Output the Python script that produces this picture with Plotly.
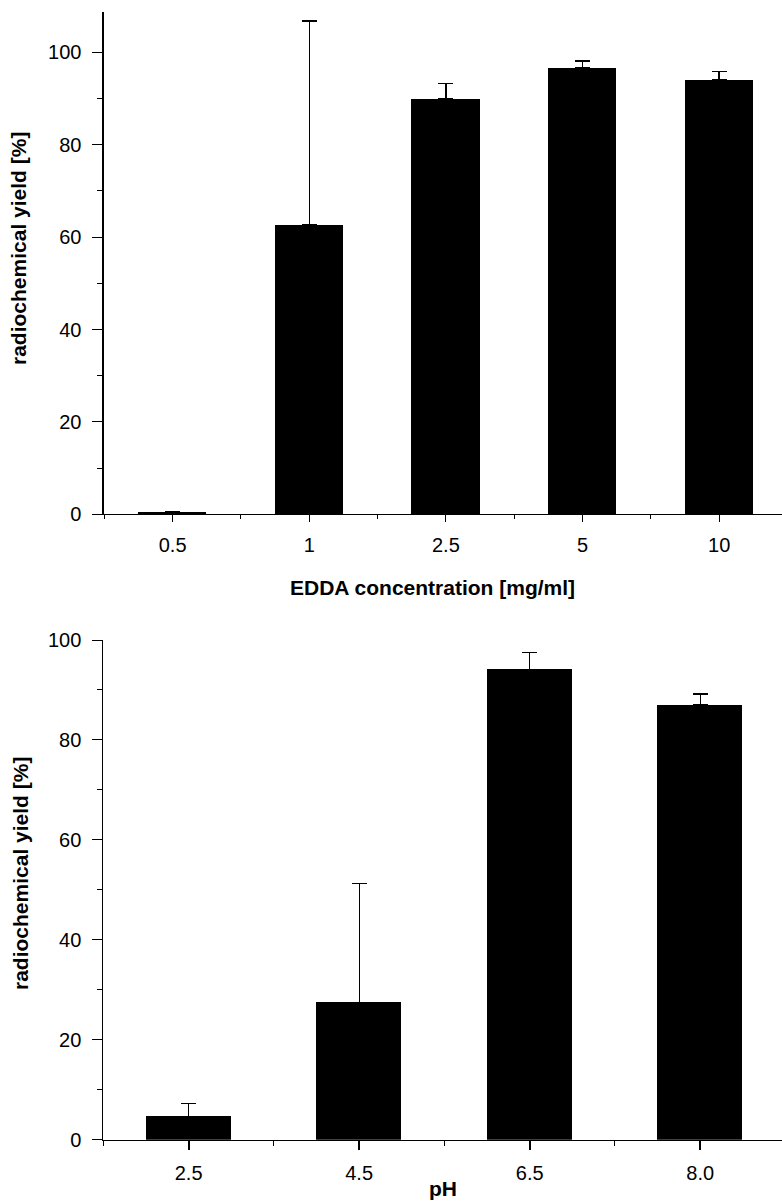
import plotly.graph_objects as go

# ---- data ----
edda_labels = ["0.5", "1", "2.5", "5", "10"]
edda_yield = [0.6, 62.8, 90.0, 96.6, 94.1]
edda_err = [0.0, 44.0, 3.2, 1.5, 1.7]

ph_labels = ["2.5", "4.5", "6.5", "8.0"]
ph_yield = [4.7, 27.5, 94.1, 87.0]
ph_err = [2.5, 23.8, 3.4, 2.2]

y_ticks = [0, 20, 40, 60, 80, 100]

W, H = 782, 1203
TICKFONT = dict(family="Liberation Sans, Arial, Helvetica, sans-serif", size=20, color="black")
TITLEFONT = dict(family="Liberation Sans, Arial, Helvetica, sans-serif", size=21, color="black")

fig = go.Figure()


def bars(labels, vals, errs, xa, ya):
    return go.Bar(
        x=list(range(len(labels))), y=vals, width=0.5,
        marker=dict(color="black", line=dict(width=0)),
        error_y=dict(type="data", array=errs, arrayminus=[0] * len(errs),
                     symmetric=False, color="black", thickness=1.3, width=7.5),
        xaxis=xa, yaxis=ya, showlegend=False,
    )


fig.add_trace(bars(edda_labels, edda_yield, edda_err, "x", "y"))
fig.add_trace(bars(ph_labels, ph_yield, ph_err, "x2", "y2"))


def xaxis_cfg(labels, rng, domain, anchor, ticklen, minorlen, tickwidth):
    return dict(
        domain=domain, anchor=anchor, range=rng, automargin=False,
        tickmode="array", tickvals=list(range(len(labels))), ticktext=labels,
        ticks="outside", ticklen=ticklen, tickwidth=tickwidth, tickcolor="black",
        minor=dict(tickmode="array", tickvals=[i - 0.5 for i in range(len(labels) + 1)],
                   ticks="outside", ticklen=minorlen, tickwidth=1, tickcolor="black"),
        showline=True, linecolor="black", linewidth=1,
        showgrid=False, zeroline=False, tickfont=TICKFONT, ticklabelstandoff=6,
        fixedrange=True,
    )


def yaxis_cfg(rng, domain, anchor, linewidth):
    return dict(
        domain=domain, anchor=anchor, range=rng, automargin=False,
        tickmode="array", tickvals=y_ticks, ticktext=[str(v) for v in y_ticks],
        ticks="outside", ticklen=10, tickwidth=1, tickcolor="black",
        minor=dict(tickmode="linear", tick0=10, dtick=20, ticks="outside",
                   ticklen=5, tickwidth=1, tickcolor="black"),
        showline=True, linecolor="black", linewidth=linewidth,
        showgrid=False, zeroline=False, tickfont=TICKFONT, ticklabelstandoff=7,
        fixedrange=True,
    )


top_dom = [1 - 514.3 / H, 1 - 11.7 / H]
bot_dom = [1 - 1139.7 / H, 1 - 640 / H]

fig.update_layout(
    width=W, height=H,
    margin=dict(l=0, r=0, t=0, b=0, autoexpand=False),
    paper_bgcolor="white", plot_bgcolor="white",
    xaxis=xaxis_cfg(edda_labels, [-0.5, 4.46], [104.3 / W, 1.0], "y", 7, 4, 1),
    yaxis=yaxis_cfg([0, 108.8], top_dom, "x", 1.8),
    xaxis2=xaxis_cfg(ph_labels, [-0.5, 3.48], [103.4 / W, 1.0], "y2", 9, 5, 1.6),
    yaxis2=yaxis_cfg([0, 100], bot_dom, "x2", 1.2),
    bargap=0,
    annotations=[
        dict(text="<b>radiochemical yield [%]</b>", x=19 / W, y=1 - 249 / H,
             xref="paper", yref="paper", textangle=-90, showarrow=False,
             xanchor="center", yanchor="middle", font=TITLEFONT),
        dict(text="<b>radiochemical yield [%]</b>", x=20 / W, y=1 - 874 / H,
             xref="paper", yref="paper", textangle=-90, showarrow=False,
             xanchor="center", yanchor="middle", font=TITLEFONT),
        dict(text="<b>EDDA concentration [mg/ml]</b>", x=432.5 / W, y=1 - 587 / H,
             xref="paper", yref="paper", showarrow=False,
             xanchor="center", yanchor="middle", font=TITLEFONT),
        dict(text="<b>pH</b>", x=443 / W, y=1 - 1188 / H,
             xref="paper", yref="paper", showarrow=False,
             xanchor="center", yanchor="middle", font=TITLEFONT),
    ],
)

fig.write_html("out.html", config={"displayModeBar": False},
               post_script="document.body.style.margin='0';document.body.style.overflow='hidden';")
